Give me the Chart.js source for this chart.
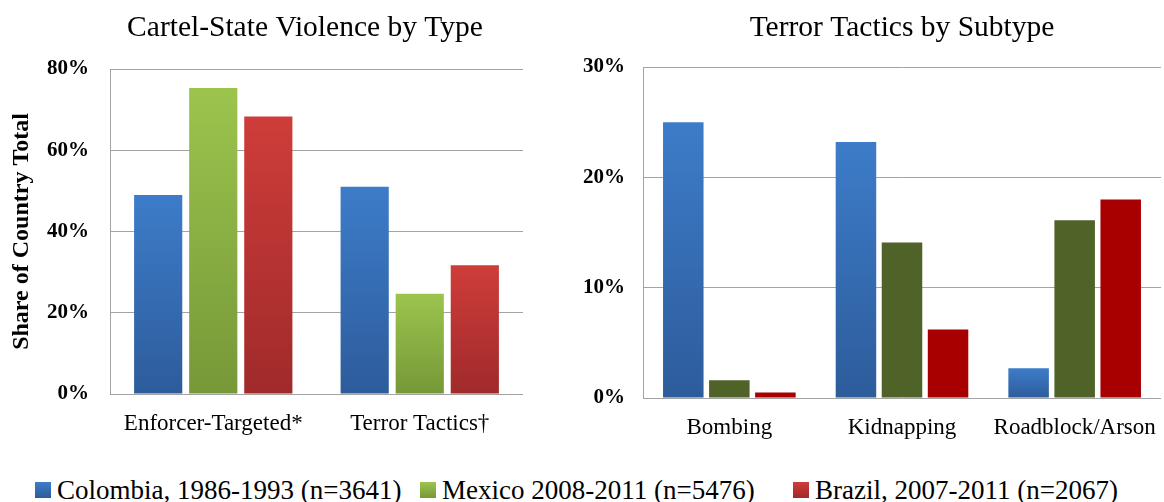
<!DOCTYPE html>
<html>
<head>
<meta charset="utf-8">
<script src="https://cdn.jsdelivr.net/npm/chart.js@4/dist/chart.umd.min.js"></script>
<style>
  html, body { margin: 0; padding: 0; background: #fff; }
  body { width: 1164px; height: 502px; position: relative; overflow: hidden; font-family: "Liberation Serif", "DejaVu Serif", serif; }
  #typeChart { position: absolute; left: 0; top: 0; }
  #subtypeChart { position: absolute; left: 560px; top: 0; }
  .item { position: absolute; top: 474px; display: flex; align-items: center; font-size: 27px; color: #000; line-height: 32px; white-space: nowrap; }
  .swatch { width: 16px; height: 16px; margin-right: 6px; }
</style>
</head>
<body>
<canvas id="typeChart" width="610" height="444"></canvas>
<canvas id="subtypeChart" width="604" height="448"></canvas>
<div id="legend"></div>
<script>
// Countries / periods shown in both panels
const seriesNames = ['Colombia, 1986-1993 (n=3641)', 'Mexico 2008-2011 (n=5476)', 'Brazil, 2007-2011 (n=2067)'];

// Left panel: share of each country's cartel-state violence, by type (%)
const typeCategories = ['Enforcer-Targeted*', 'Terror Tactics\u2020'];
const colombiaByType = [49.0, 51.0];
const mexicoByType = [75.3, 24.7];
const brazilByType = [68.3, 31.7];
const typeTicks = [0, 20, 40, 60, 80];

// Right panel: terror tactics broken down by subtype (%)
const subtypeCategories = ['Bombing', 'Kidnapping', 'Roadblock/Arson'];
const colombiaBySubtype = [25.0, 23.2, 2.7];
const mexicoBySubtype = [1.6, 14.1, 16.1];
const brazilBySubtype = [0.5, 6.2, 18.0];
const subtypeTicks = [0, 10, 20, 30];

const FONT = '"Liberation Serif", "DejaVu Serif", serif';
const GRID = '#a3a3a3';

// vertical gradient spanning each bar, lighter at the top
function barGradient(top, bottom) {
  return (ctx) => {
    const chart = ctx.chart;
    if (!chart.chartArea || ctx.type !== 'data') return top;
    const y = chart.scales.y;
    const y0 = y.getPixelForValue(ctx.raw);
    const y1 = y.getPixelForValue(0);
    if (!isFinite(y0) || !isFinite(y1) || y0 === y1) return top;
    const g = chart.ctx.createLinearGradient(0, y0, 0, y1);
    g.addColorStop(0, top);
    g.addColorStop(1, bottom);
    return g;
  };
}

const BLUE = ['#3d7cc9', '#2d5c9b'];
const GREEN = ['#9cc44d', '#769838'];
const RED = ['#ce3d3a', '#a02a2a'];
const OLIVE = '#4f6228';
const DARKRED = '#a80000';

function panelOptions(cfg) {
  const scales = {
    x: {
      grid: { display: false, drawTicks: false },
      border: { display: false },
      ticks: { color: '#000', font: { family: FONT, size: 23 }, padding: 16, maxRotation: 0, autoSkip: false },
      afterFit: (s) => {
        s.height = 50;
        // category labels fit inside the plot; don't let them squeeze it
        s.paddingLeft = 0;
        s.paddingRight = 0;
      }
    },
    y: {
      min: cfg.ticks[0],
      max: cfg.ticks[cfg.ticks.length - 1],
      afterBuildTicks: (s) => { s.ticks = cfg.ticks.map(v => ({ value: v })); },
      grid: { color: GRID, lineWidth: 1, drawTicks: false },
      border: { display: true, color: GRID, width: 1 },
      ticks: {
        color: '#000',
        padding: cfg.tickPad,
        font: { family: FONT, size: 21, weight: 'bold' },
        callback: (v) => v + '%'
      },
      title: cfg.yTitle,
      afterFit: (s) => { s.width = cfg.yWidth; }
    }
  };
  if (cfg.rightGap) {
    // empty space to the right of the plot, so the title centres over the whole panel
    scales.gap = {
      position: 'right',
      grid: { display: false, drawTicks: false },
      border: { display: false },
      ticks: { display: false },
      afterFit: (s) => { s.width = cfg.rightGap; }
    };
  }
  return {
    responsive: false,
    animation: false,
    devicePixelRatio: 1,
    layout: { padding: { left: 0, right: cfg.rightPad || 0, top: 0, bottom: 0 } },
    plugins: {
      legend: { display: false },
      tooltip: { enabled: false },
      title: {
        display: true,
        text: cfg.title,
        fullSize: cfg.fullSizeTitle,
        color: '#000',
        font: { family: FONT, size: 29.5, weight: 'normal', lineHeight: 1.2 },
        padding: cfg.titlePad
      }
    },
    scales
  };
}

new Chart(document.getElementById('typeChart'), {
  type: 'bar',
  data: {
    labels: typeCategories,
    datasets: [
      { label: seriesNames[0], data: colombiaByType, backgroundColor: barGradient(BLUE[0], BLUE[1]) },
      { label: seriesNames[1], data: mexicoByType, backgroundColor: barGradient(GREEN[0], GREEN[1]) },
      { label: seriesNames[2], data: brazilByType, backgroundColor: barGradient(RED[0], RED[1]) }
    ].map(d => Object.assign(d, { categoryPercentage: 0.8, barPercentage: 0.875, borderWidth: 0 }))
  },
  options: panelOptions({
    ticks: typeTicks,
    title: 'Cartel-State Violence by Type',
    titlePad: { top: 11, bottom: 22.6 },
    yWidth: 110,
    yTitle: { display: true, text: 'Share of Country Total', color: '#000', font: { family: FONT, size: 24, weight: 'bold', lineHeight: 1.2 }, padding: { top: 7.6, bottom: 0 } },
    fullSizeTitle: true,
    rightGap: 87,
    tickPad: 21
  })
});

new Chart(document.getElementById('subtypeChart'), {
  type: 'bar',
  data: {
    labels: subtypeCategories,
    datasets: [
      { label: seriesNames[0], data: colombiaBySubtype, backgroundColor: barGradient(BLUE[0], BLUE[1]) },
      { label: seriesNames[1], data: mexicoBySubtype, backgroundColor: OLIVE },
      { label: seriesNames[2], data: brazilBySubtype, backgroundColor: DARKRED }
    ].map(d => Object.assign(d, { categoryPercentage: 0.8, barPercentage: 0.88, borderWidth: 0 }))
  },
  options: panelOptions({
    ticks: subtypeTicks,
    title: 'Terror Tactics by Subtype',
    titlePad: { top: 11, bottom: 20.6 },
    yWidth: 83,
    yTitle: { display: false },
    fullSizeTitle: false,
    rightPad: 3,
    tickPad: 18
  })
});

// shared legend under both panels
const swatches = [
  'linear-gradient(#3d7cc9, #2d5c9b)',
  'linear-gradient(#9cc44d, #769838)',
  'linear-gradient(#ce3d3a, #a02a2a)'
];
const legendLeft = ['35px', '420px', '793px'];
const legend = document.getElementById('legend');
seriesNames.forEach((name, i) => {
  const item = document.createElement('div');
  item.className = 'item';
  item.style.left = legendLeft[i];
  const sw = document.createElement('span');
  sw.className = 'swatch';
  sw.style.background = swatches[i];
  const tx = document.createElement('span');
  tx.textContent = name;
  item.appendChild(sw);
  item.appendChild(tx);
  legend.appendChild(item);
});
</script>
</body>
</html>
